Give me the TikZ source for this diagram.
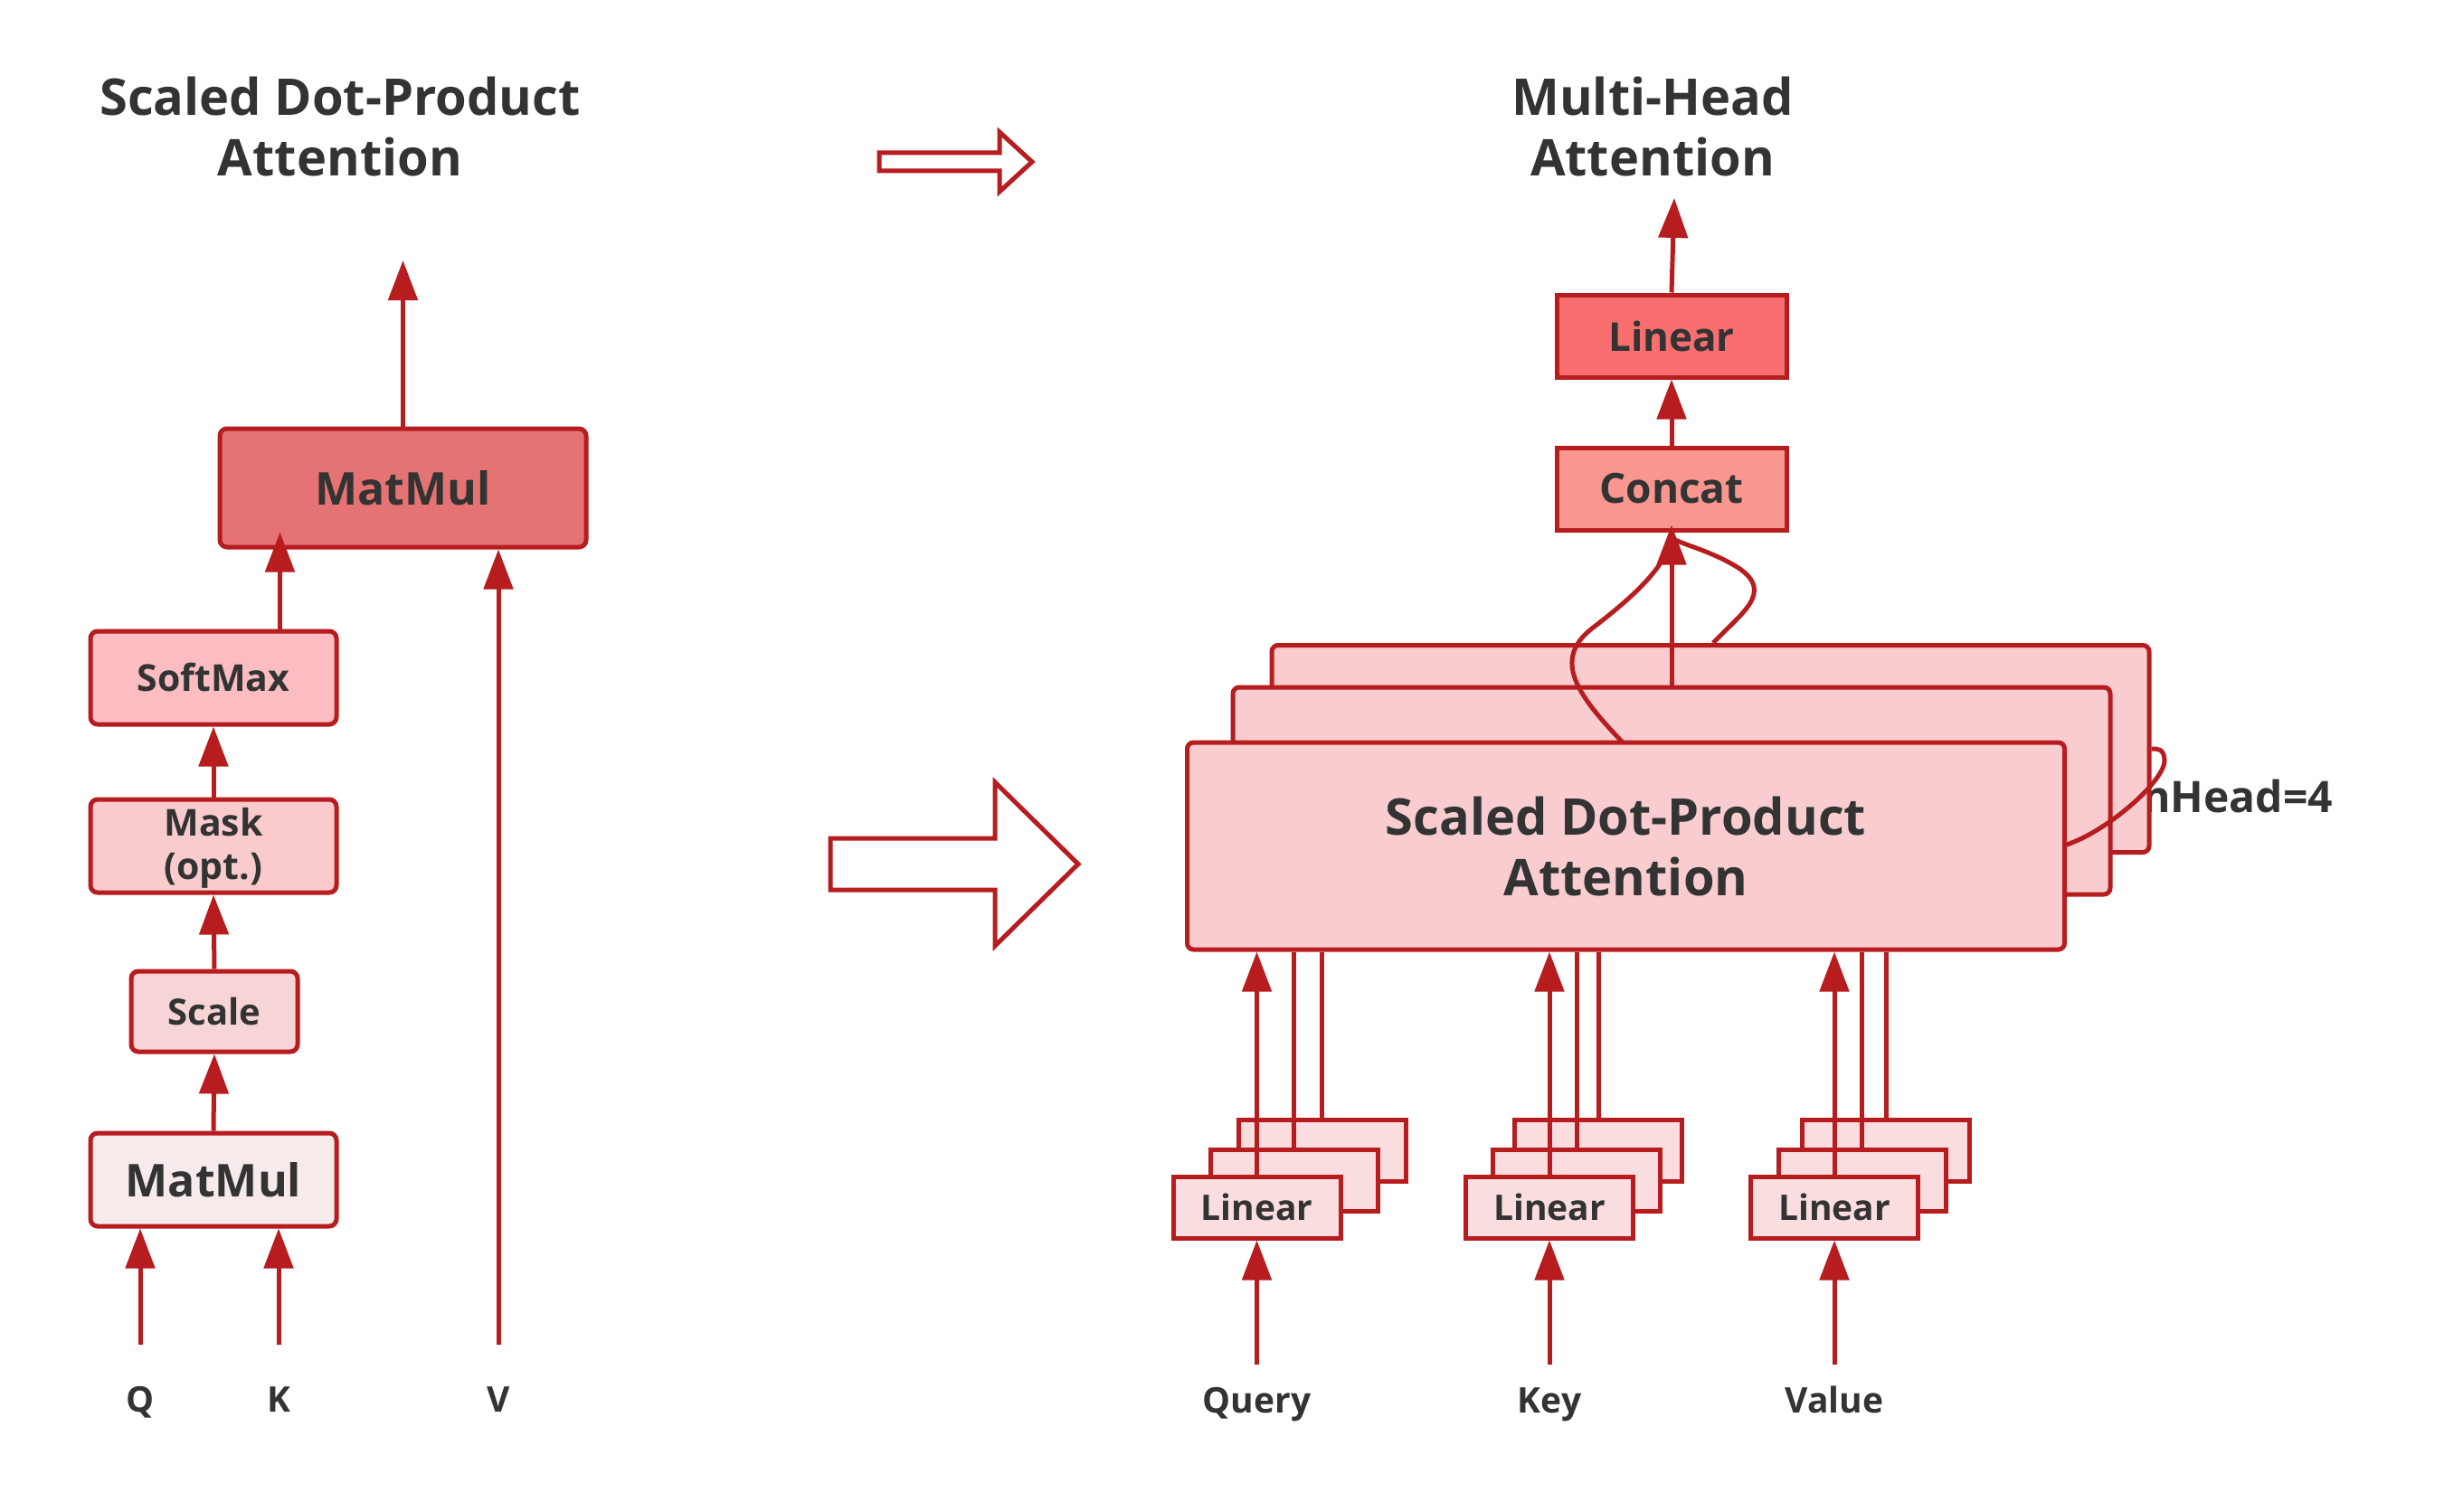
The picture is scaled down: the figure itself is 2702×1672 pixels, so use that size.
\documentclass[tikz,border=0pt]{standalone}
\usepackage{fontspec}
\setmainfont{Open Sans}
\usetikzlibrary{arrows.meta,calc}
\definecolor{rd}{RGB}{183,28,31}
\definecolor{txt}{HTML}{333333}
\definecolor{mmtop}{HTML}{E57373}
\definecolor{smf}{HTML}{FBBDC2}
\definecolor{maskf}{HTML}{F9CBCD}
\definecolor{scalef}{HTML}{F7D4D5}
\definecolor{mmbot}{HTML}{F6EAEA}
\definecolor{attf}{HTML}{F9CDD0}
\definecolor{catf}{HTML}{F8968F}
\definecolor{linf}{HTML}{F96E6E}
\definecolor{slf}{HTML}{FADDDF}
\newcommand{\fs}[2]{\fontsize{#1}{#2}\selectfont\bfseries}
\begin{document}
\begin{tikzpicture}[x=1pt,y=-1pt,
  rbox/.style={draw=rd, line width=5pt, rounded corners=8pt, inner sep=0pt, text=txt, align=center},
  sbox/.style={draw=rd, line width=5pt, inner sep=0pt, text=txt, align=center},
  att/.style={draw=rd, line width=5pt, rounded corners=7pt, fill=attf, inner sep=0pt, text=txt, align=center,
     minimum width=970pt, minimum height=229pt, font=\fs{56}{67}},
  sl/.style={sbox, fill=slf, minimum width=185pt, minimum height=68pt, font=\fs{39}{50}},
  arr/.style={draw=rd, line width=5pt, -{Triangle[width=32pt 0, length=44pt 0]}},
  ln/.style={draw=rd, line width=5pt},
  title/.style={text=txt, align=center, inner sep=0pt, font=\fs{56}{67}},
  lbl/.style={text=txt, inner sep=0pt, anchor=base, font=\fs{39}{48}},
  hollow/.style={draw=rd, line width=5pt, fill=white, line join=miter}
]
\useasboundingbox[fill=white] (0,0) rectangle (2702,1672);

% ---------- Left: Scaled Dot-Product Attention ----------
\node[title] (t1) at (376,140) {Scaled Dot-Product\\Attention};

\node[rbox, fill=mmtop, minimum width=405pt, minimum height=131pt, font=\fs{50}{60}] (mm2) at (445.5,539.5) {MatMul};
\node[rbox, fill=smf, minimum width=272pt, minimum height=103pt, font=\fs{41}{50}] (sm) at (236,749.5) {SoftMax};
\node[rbox, fill=maskf, minimum width=272pt, minimum height=103pt, font=\fs{41}{48}] (mask) at (236,935.5) {\rule{0pt}{36pt}Mask\\(opt.)};
\node[rbox, fill=scalef, minimum width=184pt, minimum height=89pt, font=\fs{40}{50}] (scale) at (237,1118.5) {Scale};
\node[rbox, fill=mmbot, minimum width=272pt, minimum height=103pt, font=\fs{50}{60}] (mm1) at (236,1304.5) {MatMul};

\coordinate (outL) at (445.5,288);
\draw[arr] (mm2.north) -- (outL);
\draw[arr, shorten >=-19pt] ([xshift=69pt]mm2.south west |- sm.north) -- ([xshift=69pt]mm2.south west);
\draw[arr] (mask.north) -- (sm.south);
\draw[arr] (scale.north) -- (mask.south);
\draw[arr] (mm1.north) -- (scale.south);

\node[lbl] (Q) at (155,1561) {Q};
\node[lbl] (K) at (308,1561) {K};
\node[lbl] (V) at (551,1561) {V};
\coordinate (qs) at (155,1487);
\coordinate (ks) at (308,1487);
\coordinate (vs) at (551,1487);
\draw[arr] (qs) -- (qs |- mm1.south);
\draw[arr] (ks) -- (ks |- mm1.south);
\draw[arr] (vs) -- (vs |- mm2.south);

% ---------- Middle hollow arrows ----------
\draw[hollow] (972,169) -- (1105,169) -- (1105,146) -- (1141,179) -- (1105,212) -- (1105,189) -- (972,189) -- cycle;
\draw[hollow] (918,927) -- (1100,927) -- (1100,865) -- (1192,955.5) -- (1100,1046) -- (1100,984) -- (918,984) -- cycle;

% ---------- Right: Multi-Head Attention ----------
\node[title] (t2) at (1827,140) {Multi-Head\\Attention};

\node[sbox, fill=linf, minimum width=254pt, minimum height=91pt, font=\fs{44}{58}] (lin) at (1848,371.5) {Linear};
\node[sbox, fill=catf, minimum width=254pt, minimum height=91pt, font=\fs{46}{58}] (cat) at (1848,540.5) {Concat};
\coordinate (outR) at (1851,219);
\draw[arr] (lin.north) -- (outR);
\draw[arr] (cat.north) -- (lin.south);

\node[anchor=west, text=txt, inner sep=0pt, font=\fs{48}{60}] (nh) at (2368,880) {nHead=4};

\coordinate (a1top) at (1795,822);
\coordinate (a1e) at (2282,935);

\node[att] (a3) at (1891,828) {};
\draw[ln] ([xshift=3pt]a3.north) .. controls (1925,678) and (1962,655) .. (1922,628)
          .. controls (1890,608) and (1858,602) .. ([yshift=-6pt]cat.south);
\draw[arr, shorten >=-8pt] (1848,760) -- (cat.south);
\node[att] (a2) at (1848,874.5) {};
\draw[ln] (a1top) .. controls (1745,770) and (1715,730) .. (1760,695)
          .. controls (1795,668) and (1842,630) .. ([yshift=-6pt]cat.south);
\draw[ln] (a1e) .. controls (2330,920) and (2395,862) .. (2393,840)
          .. controls (2392,828) and (2386,828) .. (a3.east);
\node[att] (a1) at (1797.5,935.5) {Scaled Dot-Product\\Attention};

% ---------- small Linear stacks ----------
% Query
\node[sl] (q3) at (1461.5,1272) {};
\draw[ln] (q3.north) -- (q3.north |- a1.south);
\node[sl] (q2) at (1430.5,1305.5) {};
\draw[ln] (q2.north) -- (q2.north |- a1.south);
\node[sl] (q1) at (1389.5,1335) {Linear};
\draw[arr] (q1.north) -- (q1.north |- a1.south);
% Key
\node[sl] (k3) at (1767,1272) {};
\draw[ln] (k3.north) -- (k3.north |- a1.south);
\node[sl] (k2) at (1743,1305.5) {};
\draw[ln] (k2.north) -- (k2.north |- a1.south);
\node[sl] (k1) at (1713,1335) {Linear};
\draw[arr] (k1.north) -- (k1.north |- a1.south);
% Value
\node[sl] (v3) at (2085,1272) {};
\draw[ln] (v3.north) -- (v3.north |- a1.south);
\node[sl] (v2) at (2058.5,1305.5) {};
\draw[ln] (v2.north) -- (v2.north |- a1.south);
\node[sl] (v1) at (2028,1335) {Linear};
\draw[arr] (v1.north) -- (v1.north |- a1.south);

\node[lbl] (qry) at (1389.5,1562) {Query};
\node[lbl] (key) at (1713,1562) {Key};
\node[lbl] (val) at (2028,1562) {Value};
\coordinate (qin) at (1389.5,1509);
\coordinate (kin) at (1713,1509);
\coordinate (vin) at (2028,1509);
\draw[arr] (qin) -- (q1.south);
\draw[arr] (kin) -- (k1.south);
\draw[arr] (vin) -- (v1.south);
\end{tikzpicture}
\end{document}
